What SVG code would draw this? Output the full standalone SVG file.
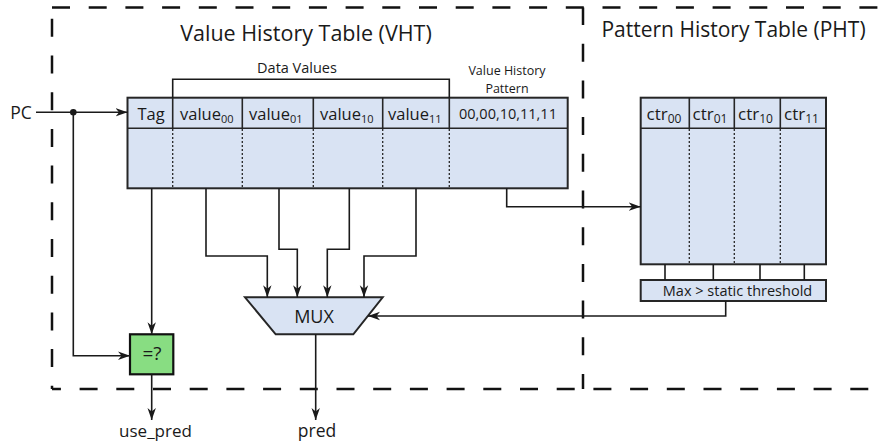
<svg xmlns="http://www.w3.org/2000/svg" width="878" height="443" viewBox="0 0 878 443">
<style>
  .frame{fill:none;stroke:#111;stroke-width:2.5;stroke-dasharray:18 18.7}
  .tbl{fill:#D9E3F3;stroke:#262626;stroke-width:2}
  .div{fill:none;stroke:#262626;stroke-width:1.6}
  .dot{fill:none;stroke:#262626;stroke-width:1.3;stroke-dasharray:2 2}
  .wire{fill:none;stroke:#1a1a1a;stroke-width:1.6}
  .arr{fill:none;stroke:#1a1a1a;stroke-width:1.6;marker-end:url(#ah)}
  text{font-family:"Open Sans","Noto Sans","DejaVu Sans",sans-serif;fill:#1a1a1a}
  .t17{font-size:16.5px}
  .t14{font-size:14.5px}
  .sub{font-size:11px}
</style>
<defs>
  <marker id="ah" markerUnits="userSpaceOnUse" markerWidth="12" markerHeight="10" viewBox="0 0 12 10" refX="12" refY="5" orient="auto">
    <path d="M0,0.8 L12,5 L0,9.2 L3.5,5 Z" fill="#1a1a1a"/>
  </marker>
</defs>

<g id="frame">
  <line class="frame" x1="52" y1="7.5" x2="878" y2="7.5"/>
  <line class="frame" x1="52" y1="7.5" x2="52" y2="389" style="stroke-dashoffset:25.4"/>
  <line class="frame" x1="52" y1="389" x2="878" y2="389" style="stroke-dashoffset:9.1"/>
  <line class="frame" x1="583" y1="7.5" x2="583" y2="389" style="stroke-dashoffset:0.5"/>
  <text x="306" y="41" text-anchor="middle" style="font-size:21.5px">Value History Table (VHT)</text>
  <text x="733.5" y="37" text-anchor="middle" style="font-size:21px">Pattern History Table (PHT)</text>
</g>

<g id="vht">
  <rect class="tbl" x="127.5" y="97.7" width="440.2" height="90.6"/>
  <line class="div" x1="127.5" y1="128.3" x2="567.7" y2="128.3"/>
  <line class="div" x1="172.7" y1="97.7" x2="172.7" y2="128.3"/>
  <line class="div" x1="242.3" y1="97.7" x2="242.3" y2="128.3"/>
  <line class="div" x1="313.3" y1="97.7" x2="313.3" y2="128.3"/>
  <line class="div" x1="382.7" y1="97.7" x2="382.7" y2="128.3"/>
  <line class="div" x1="449.3" y1="97.7" x2="449.3" y2="128.3"/>
  <line class="dot" x1="172.7" y1="129" x2="172.7" y2="187.5"/>
  <line class="dot" x1="242.3" y1="129" x2="242.3" y2="187.5"/>
  <line class="dot" x1="313.3" y1="129" x2="313.3" y2="187.5"/>
  <line class="dot" x1="382.7" y1="129" x2="382.7" y2="187.5"/>
  <line class="dot" x1="449.3" y1="129" x2="449.3" y2="187.5"/>
  <text class="t17" x="151" y="120" text-anchor="middle">Tag</text>
  <text class="t17" x="180" y="120">value<tspan class="sub" dy="3">00</tspan></text>
  <text class="t17" x="249" y="120">value<tspan class="sub" dy="3">01</tspan></text>
  <text class="t17" x="320" y="120">value<tspan class="sub" dy="3">10</tspan></text>
  <text class="t17" x="388" y="120">value<tspan class="sub" dy="3">11</tspan></text>
  <text x="508" y="119" text-anchor="middle" style="font-size:14.5px">00,00,10,11,11</text>
  <path class="wire" d="M172.7,97.7 V79.3 H449.3 V97.7"/>
  <text class="t14" x="297" y="73" text-anchor="middle">Data Values</text>
  <text text-anchor="middle" style="font-size:12.5px"><tspan x="507" y="75">Value History</tspan><tspan x="507" y="92.5">Pattern</tspan></text>
</g>

<g id="pht">
  <rect class="tbl" x="640.7" y="97.7" width="185.3" height="166.6"/>
  <line class="div" x1="640.7" y1="128.3" x2="826" y2="128.3"/>
  <line class="div" x1="689.3" y1="97.7" x2="689.3" y2="128.3"/>
  <line class="div" x1="734.3" y1="97.7" x2="734.3" y2="128.3"/>
  <line class="div" x1="780.3" y1="97.7" x2="780.3" y2="128.3"/>
  <line class="dot" x1="689.3" y1="129" x2="689.3" y2="263.5"/>
  <line class="dot" x1="734.3" y1="129" x2="734.3" y2="263.5"/>
  <line class="dot" x1="780.3" y1="129" x2="780.3" y2="263.5"/>
  <text x="646.5" y="119.5" style="font-size:17px">ctr<tspan class="sub" dy="3.5" style="font-size:12px">00</tspan></text>
  <text x="692.5" y="119.5" style="font-size:17px">ctr<tspan class="sub" dy="3.5" style="font-size:12px">01</tspan></text>
  <text x="738" y="119.5" style="font-size:17px">ctr<tspan class="sub" dy="3.5" style="font-size:12px">10</tspan></text>
  <text x="784" y="119.5" style="font-size:17px">ctr<tspan class="sub" dy="3.5" style="font-size:12px">11</tspan></text>
</g>

<g id="max">
  <rect class="tbl" x="640.7" y="280" width="185.3" height="21"/>
  <text class="t14" x="737.5" y="295.5" text-anchor="middle">Max &gt; static threshold</text>
</g>

<g id="mux">
  <path class="tbl" d="M245,297.3 H382.7 L353.3,334.3 H275.7 Z"/>
  <text x="314" y="323" text-anchor="middle" style="font-size:18px">MUX</text>
</g>

<g id="cmp">
  <rect x="130" y="334.3" width="43.3" height="40" fill="#88DD82" stroke="#111" stroke-width="2.2"/>
  <text x="152" y="360" text-anchor="middle" style="font-size:19px">=?</text>
</g>

<g id="labels">
  <text x="21" y="118.5" text-anchor="middle" style="font-size:17.5px">PC</text>
  <text x="155.5" y="437" text-anchor="middle" style="font-size:17px">use_pred</text>
  <text x="317" y="437" text-anchor="middle" style="font-size:17.5px">pred</text>
</g>

<g id="connectors">
  <path class="arr" d="M36,112.3 H127.5"/>
  <circle cx="73.3" cy="112.3" r="3.3" fill="#1a1a1a"/>
  <path class="arr" d="M73.3,112.3 V355.7 H130"/>
  <path class="arr" d="M151.7,188.3 V334.3"/>
  <path class="arr" d="M151.7,374.3 V420"/>
  <path class="arr" d="M206,188.3 V256 H267.3 V297.3"/>
  <path class="arr" d="M279,188.3 V249.3 H297.3 V297.3"/>
  <path class="arr" d="M349.3,188.3 V249.3 H327.3 V297.3"/>
  <path class="arr" d="M416,188.3 V256 H364 V297.3"/>
  <path class="arr" d="M315.7,334.3 V420"/>
  <path class="arr" d="M506.7,188.3 V206.7 H640.7"/>
  <path class="arr" d="M725.7,301 V316 H368"/>
  <path class="wire" d="M665,264.3 V280 M713.3,264.3 V280 M760,264.3 V280 M804.3,264.3 V280"/>
</g>
</svg>
